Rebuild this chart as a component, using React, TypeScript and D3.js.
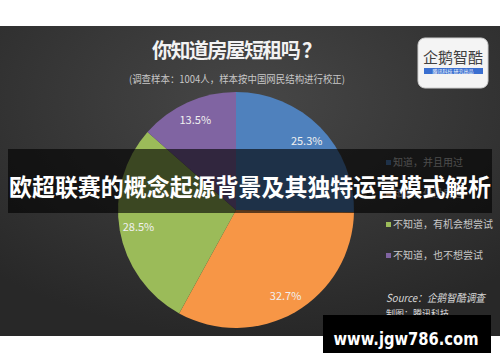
import React from "react";
import * as d3 from "d3";

const categories = ["知道，并且用过", "知道，但没用过", "不知道，有机会想尝试", "不知道，也不想尝试"];
const values = [25.3, 32.7, 28.5, 13.5];
const colors = ["#4f81bd", "#f79646", "#9bbb59", "#8064a2"];
const title = "你知道房屋短租吗 ？";
const subtitle = "(调查样本：1004人，样本按中国网民结构进行校正)";
const banner = "欧超联赛的概念起源背景及其独特运营模式解析";

const W = 500, H = 362;
const CJK = "'Noto Sans CJK SC', 'Noto Sans', sans-serif";

export default function App() {
  const cx = 236, cy = 210, r = 118;
  const pie = d3.pie<number>().sort(null).value((d) => d)(values);
  const arc = d3.arc<d3.PieArcDatum<number>>().innerRadius(0).outerRadius(r);
  const labelArc = d3.arc<d3.PieArcDatum<number>>().innerRadius(99).outerRadius(99);
  const legendY = d3.scaleLinear().domain([0, 3]).range([164, 257]);

  return (
    <svg width={W} height={H} style={{ position: "absolute", left: 0, top: 0 }} fontFamily={CJK}>
      <defs>
        <radialGradient id="bg" cx="0.5" cy="0.25" r="0.75">
          <stop offset="0" stopColor="#474747" />
          <stop offset="1" stopColor="#282828" />
        </radialGradient>
      </defs>
      <rect x={0} y={0} width={W} height={H} fill="#fff" />
      <rect x={0} y={26} width={W} height={310} fill="url(#bg)" />
      <text x={237} y={58} textAnchor="middle" fill="#f2f2f2" fontSize={20} fontWeight="bold" textLength={170} lengthAdjust="spacing">{title}</text>
      <text x={237} y={83} textAnchor="middle" fill="#c8c8c8" fontSize={10} textLength={216} lengthAdjust="spacingAndGlyphs">{subtitle}</text>

      {/* logo */}
      <rect x={418} y={38} width={70} height={50} rx={7} fill="#f4f4f4" stroke="#cfcfcf" />
      <text x={453} y={63} textAnchor="middle" fill="#404040" fontSize={15}>企鹅智酷</text>
      <rect x={424} y={68} width={59} height={6} fill="#3a6fd0" />
      <text x={453} y={73} textAnchor="middle" fill="#fff" fontSize={5}>腾讯科技 研究出品</text>

      <g transform={`translate(${cx},${cy})`}>
        {pie.map((p, i) => (
          <path key={i} d={arc(p) || ""} fill={colors[i]} />
        ))}
        {pie.map((p, i) => {
          const [x, y] = labelArc.centroid(p);
          return (
            <text key={i} x={x} y={y + 4} textAnchor="middle" fill="#f0f0f0" fontSize={11}>
              {values[i].toFixed(1)}%
            </text>
          );
        })}
      </g>

      {categories.map((c, i) => (
        <g key={i} transform={`translate(386,${legendY(i)})`}>
          <rect x={0} y={-4} width={5} height={5} fill={colors[i]} />
          <text x={7} y={1.5} fill="#c8c8c8" fontSize={10}>{c}</text>
        </g>
      ))}

      <text x={386} y={302} fill="#d8d8d8" fontSize={11} fontStyle="italic" textLength={99} lengthAdjust="spacingAndGlyphs">Source：企鹅智酷调查</text>
      <text x={386} y={317} fill="#d8d8d8" fontSize={9}>制图：腾讯科技</text>

      {/* banner overlay */}
      <rect x={8} y={149} width={484} height={64} fill="#000" opacity={0.62} />
      <text x={250} y={196} textAnchor="middle" fill="#fff" fontSize={24} fontWeight="bold" textLength={482} lengthAdjust="spacingAndGlyphs">{banner}</text>

      {/* watermark */}
      <rect x={323} y={315} width={168} height={38} fill="#000" />
      <text x={406} y={345} textAnchor="middle" fill="#fff" fontSize={18} fontWeight="bold" fontFamily="'DejaVu Sans', sans-serif" textLength={145} lengthAdjust="spacingAndGlyphs">www.jgw786.com</text>
    </svg>
  );
}
